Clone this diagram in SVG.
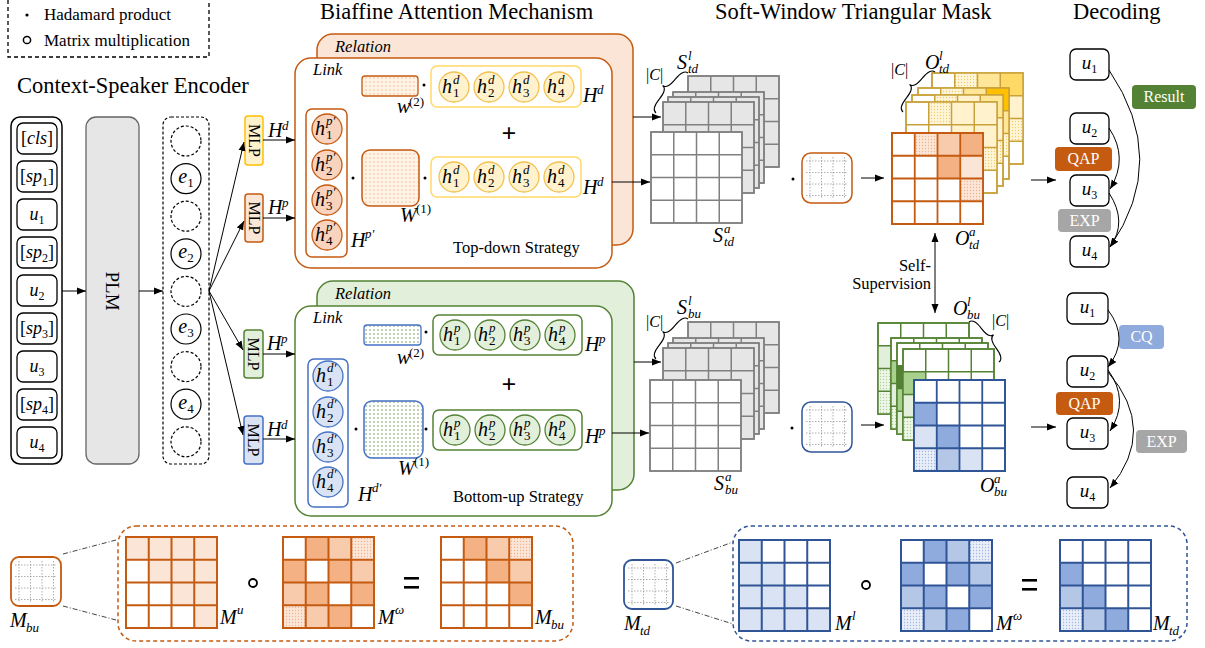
<svg xmlns="http://www.w3.org/2000/svg" xmlns:xlink="http://www.w3.org/1999/xlink" width="1205" height="648" viewBox="0 0 1205 648">
<defs>
<style>
text{font-family:"Liberation Serif","Times New Roman",serif;fill:#000}
.i{font-style:italic}
.ttl{font-size:22.5px}
.lg{font-size:17px}
.m{font-size:20px;font-style:italic}
.s{font-size:13px}
.si{font-size:13px;font-style:italic}
.lab{font-size:16.5px}
.wt{fill:#fff;font-size:16px}
.ln{stroke:#000;stroke-width:1;fill:none}
.arr{marker-end:url(#ah)}
.box{fill:#fff;stroke:#000;stroke-width:1.3}
.mg{stroke:#9a9a9a;stroke-width:0.8;stroke-dasharray:1.5 1.5;fill:none}
.dd{stroke:#444;stroke-width:1;stroke-dasharray:5 2 1 2;fill:none}
</style>
<marker id="ah" markerWidth="9" markerHeight="8" refX="9" refY="4" orient="auto" markerUnits="userSpaceOnUse"><path d="M0,0.5 L9,4 L0,7.5z" fill="#000"/></marker>
<marker id="ah2" markerWidth="9" markerHeight="8" refX="9" refY="4" orient="auto-start-reverse" markerUnits="userSpaceOnUse"><path d="M0,0.5 L9,4 L0,7.5z" fill="#000"/></marker>
<pattern id="pO" width="3" height="3" patternUnits="userSpaceOnUse"><rect width="3" height="3" fill="#fce6d8"/><circle cx="1.5" cy="1.5" r="0.65" fill="#f2b48e"/></pattern>
<pattern id="pY" width="3" height="3" patternUnits="userSpaceOnUse"><rect width="3" height="3" fill="#fff6da"/><circle cx="1.5" cy="1.5" r="0.65" fill="#f2cc6a"/></pattern>
<pattern id="pB" width="3" height="3" patternUnits="userSpaceOnUse"><rect width="3" height="3" fill="#e9eef8"/><circle cx="1.5" cy="1.5" r="0.65" fill="#9fb6e0"/></pattern>
<pattern id="pG" width="3" height="3" patternUnits="userSpaceOnUse"><rect width="3" height="3" fill="#eef6ea"/><circle cx="1.5" cy="1.5" r="0.65" fill="#a9d18e"/></pattern>
<pattern id="pWO" width="4" height="4" patternUnits="userSpaceOnUse"><rect width="4" height="4" fill="#fff3e6"/><circle cx="2" cy="2" r="0.7" fill="#f4b183"/></pattern>
<pattern id="pWG" width="4" height="4" patternUnits="userSpaceOnUse"><rect width="4" height="4" fill="#fff"/><circle cx="2" cy="2" r="0.7" fill="#548235"/></pattern>
<path id="g4" d="M0,0H91V91H0Z M22.75,0V91 M45.5,0V91 M68.25,0V91 M0,22.75H91 M0,45.5H91 M0,68.25H91" fill="none"/>
<path id="mgrid" class="mg" d="M8,4V46 M19.5,4V46 M31,4V46 M42.5,4V46 M4,8H46 M4,19.5H46 M4,31H46 M4,42.5H46"/>
</defs>

<rect width="1205" height="648" fill="#fff"/>

<!-- titles -->
<g id="titles">
<text class="ttl" x="17" y="93">Context-Speaker Encoder</text>
<text class="ttl" x="320" y="19">Biaffine Attention Mechanism</text>
<text class="ttl" x="715" y="19">Soft-Window Triangular Mask</text>
<text class="ttl" x="1073" y="19">Decoding</text>
</g>

<!-- legend -->
<g id="legend">
<rect x="8" y="-6" width="201" height="63" fill="none" stroke="#000" stroke-width="1.3" stroke-dasharray="4 3"/>
<circle cx="27" cy="15" r="1.6" fill="#000"/>
<text class="lg" x="44" y="20">Hadamard product</text>
<circle cx="27" cy="40" r="3.6" fill="none" stroke="#000" stroke-width="1.5"/>
<text class="lg" x="44" y="46">Matrix multiplication</text>
</g>

<!-- encoder input -->
<g id="inputs">
<rect x="11" y="117" width="51" height="347" rx="9" fill="none" stroke="#000" stroke-width="1.5"/>
<rect class="box" x="17" y="123" width="40" height="31" rx="6"/>
<text x="37" y="144" text-anchor="middle" font-size="18">[<tspan class="i">cls</tspan>]</text>
<rect class="box" x="17" y="161" width="40" height="31" rx="6"/>
<text x="37" y="182" text-anchor="middle" font-size="18">[<tspan class="i">sp</tspan><tspan font-size="12" dy="4">1</tspan><tspan dy="-4">]</tspan></text>
<rect class="box" x="17" y="199" width="40" height="31" rx="6"/>
<text x="37" y="220" text-anchor="middle" font-size="18"><tspan class="i">u</tspan><tspan font-size="12" dy="4">1</tspan></text>
<rect class="box" x="17" y="237" width="40" height="31" rx="6"/>
<text x="37" y="258" text-anchor="middle" font-size="18">[<tspan class="i">sp</tspan><tspan font-size="12" dy="4">2</tspan><tspan dy="-4">]</tspan></text>
<rect class="box" x="17" y="275" width="40" height="31" rx="6"/>
<text x="37" y="296" text-anchor="middle" font-size="18"><tspan class="i">u</tspan><tspan font-size="12" dy="4">2</tspan></text>
<rect class="box" x="17" y="313" width="40" height="31" rx="6"/>
<text x="37" y="334" text-anchor="middle" font-size="18">[<tspan class="i">sp</tspan><tspan font-size="12" dy="4">3</tspan><tspan dy="-4">]</tspan></text>
<rect class="box" x="17" y="351" width="40" height="31" rx="6"/>
<text x="37" y="372" text-anchor="middle" font-size="18"><tspan class="i">u</tspan><tspan font-size="12" dy="4">3</tspan></text>
<rect class="box" x="17" y="389" width="40" height="31" rx="6"/>
<text x="37" y="410" text-anchor="middle" font-size="18">[<tspan class="i">sp</tspan><tspan font-size="12" dy="4">4</tspan><tspan dy="-4">]</tspan></text>
<rect class="box" x="17" y="427" width="40" height="31" rx="6"/>
<text x="37" y="448" text-anchor="middle" font-size="18"><tspan class="i">u</tspan><tspan font-size="12" dy="4">4</tspan></text>
</g>

<g id="plm">
<rect x="86" y="117" width="53" height="347" rx="10" fill="#e6e6e6" stroke="#666" stroke-width="1.3"/>
<text transform="translate(112,291) rotate(90)" text-anchor="middle" dominant-baseline="central" font-size="19">PLM</text>
</g>

<g id="embeddings">
<rect x="163" y="117" width="46" height="347" rx="8" fill="none" stroke="#000" stroke-width="1.2" stroke-dasharray="3 2"/>
<g fill="#fff" stroke="#000" stroke-width="1.2">
<circle cx="186" cy="141" r="15" stroke-dasharray="3 2"/>
<circle cx="186" cy="178.6" r="15"/>
<circle cx="186" cy="216.2" r="15" stroke-dasharray="3 2"/>
<circle cx="186" cy="253.8" r="15"/>
<circle cx="186" cy="291.4" r="15" stroke-dasharray="3 2"/>
<circle cx="186" cy="329" r="15"/>
<circle cx="186" cy="366.6" r="15" stroke-dasharray="3 2"/>
<circle cx="186" cy="404.2" r="15"/>
<circle cx="186" cy="441.8" r="15" stroke-dasharray="3 2"/>
</g>
<text x="186" y="183" text-anchor="middle" class="m">e<tspan class="s" font-style="normal" dy="4">1</tspan></text>
<text x="186" y="258" text-anchor="middle" class="m">e<tspan class="s" font-style="normal" dy="4">2</tspan></text>
<text x="186" y="333" text-anchor="middle" class="m">e<tspan class="s" font-style="normal" dy="4">3</tspan></text>
<text x="186" y="409" text-anchor="middle" class="m">e<tspan class="s" font-style="normal" dy="4">4</tspan></text>
</g>

<g id="mlps">
<rect x="245" y="116" width="18" height="49" rx="3" fill="#fff2cc" stroke="#ffc000" stroke-width="1.5"/>
<text transform="translate(254,140.5) rotate(90)" text-anchor="middle" dominant-baseline="central" font-size="16">MLP</text>
<rect x="245" y="194" width="18" height="48" rx="3" fill="#fbe5d6" stroke="#c55a11" stroke-width="1.5"/>
<text transform="translate(254,218) rotate(90)" text-anchor="middle" dominant-baseline="central" font-size="16">MLP</text>
<rect x="244" y="330" width="19" height="48" rx="3" fill="#e2efda" stroke="#548235" stroke-width="1.5"/>
<text transform="translate(253.5,354) rotate(90)" text-anchor="middle" dominant-baseline="central" font-size="16">MLP</text>
<rect x="244" y="416" width="19" height="48" rx="3" fill="#dae3f3" stroke="#4472c4" stroke-width="1.5"/>
<text transform="translate(253.5,440) rotate(90)" text-anchor="middle" dominant-baseline="central" font-size="16">MLP</text>
<text class="m" x="268" y="137" font-size="19">H</text><text class="si" x="282" y="130">d</text>
<text class="m" x="268" y="214" font-size="19">H</text><text class="si" x="282" y="207">p</text>
<text class="m" x="267" y="350" font-size="19">H</text><text class="si" x="281" y="343">p</text>
<text class="m" x="267" y="436" font-size="19">H</text><text class="si" x="281" y="429">d</text>
</g>

<!-- top-down biaffine -->
<g id="topdown">
<rect x="317" y="34" width="316" height="211" rx="16" fill="#fbe5d6" stroke="#c55a11" stroke-width="1.5"/>
<text class="lab i" x="335" y="52">Relation</text>
<rect x="295" y="58" width="317" height="210" rx="16" fill="#fff" stroke="#c55a11" stroke-width="1.5"/>
<text class="lab i" x="313" y="75">Link</text>
<rect x="362" y="76" width="56" height="20" rx="3" fill="url(#pWO)" stroke="#c55a11" stroke-width="1.3"/>
<circle cx="424" cy="85" r="1.5"/>
<text class="m" x="397" y="113" font-size="19">w</text><text class="s" x="409" y="106">(2)</text>
<rect x="431" y="66" width="150" height="41" rx="6" fill="#fff" stroke="#ffd966" stroke-width="1.5"/>
<g fill="#fff2cc" stroke="#f2c14e" stroke-width="1.3">
<circle cx="454" cy="87" r="15"/><circle cx="489" cy="87" r="15"/><circle cx="524" cy="87" r="15"/><circle cx="559" cy="87" r="15"/>
<circle cx="454" cy="177" r="15"/><circle cx="489" cy="177" r="15"/><circle cx="524" cy="177" r="15"/><circle cx="559" cy="177" r="15"/>
</g>
<text class="m" x="442" y="93">h</text><text class="si" x="453" y="84">d</text><text class="s" x="453" y="97">1</text>
<text class="m" x="477" y="93">h</text><text class="si" x="488" y="84">d</text><text class="s" x="488" y="97">2</text>
<text class="m" x="512" y="93">h</text><text class="si" x="523" y="84">d</text><text class="s" x="523" y="97">3</text>
<text class="m" x="547" y="93">h</text><text class="si" x="558" y="84">d</text><text class="s" x="558" y="97">4</text>
<text class="m" x="583" y="102" font-size="19">H</text><text class="si" x="597" y="94">d</text>
<text x="509" y="142" text-anchor="middle" font-size="26" font-weight="bold">+</text>
<rect x="306" y="109" width="41" height="148" rx="6" fill="#fff" stroke="#c55a11" stroke-width="1.5"/>
<g fill="#f9d3bd" stroke="#c55a11" stroke-width="1.3">
<circle cx="327" cy="129" r="15"/><circle cx="327" cy="165" r="15"/><circle cx="327" cy="200" r="15"/><circle cx="327" cy="235" r="15"/>
</g>
<text class="m" x="315" y="135">h</text><text class="si" x="326" y="125">p′</text><text class="s" x="326" y="139">1</text>
<text class="m" x="315" y="171">h</text><text class="si" x="326" y="161">p′</text><text class="s" x="326" y="175">2</text>
<text class="m" x="315" y="206">h</text><text class="si" x="326" y="196">p′</text><text class="s" x="326" y="210">3</text>
<text class="m" x="315" y="241">h</text><text class="si" x="326" y="231">p′</text><text class="s" x="326" y="245">4</text>
<text class="m" x="351" y="247" font-size="19">H</text><text class="si" x="365" y="238">p′</text>
<circle cx="353" cy="178" r="1.5"/>
<rect x="362" y="150" width="57" height="56" rx="8" fill="url(#pWO)" stroke="#c55a11" stroke-width="1.5"/>
<text class="m" x="400" y="222" font-size="19">W</text><text class="s" x="416" y="213">(1)</text>
<circle cx="425" cy="178" r="1.5"/>
<rect x="431" y="157" width="150" height="40" rx="6" fill="#fff" stroke="#ffd966" stroke-width="1.5"/>
<g fill="#fff2cc" stroke="#f2c14e" stroke-width="1.3">
<circle cx="454" cy="177" r="15"/><circle cx="489" cy="177" r="15"/><circle cx="524" cy="177" r="15"/><circle cx="559" cy="177" r="15"/>
</g>
<text class="m" x="442" y="183">h</text><text class="si" x="453" y="174">d</text><text class="s" x="453" y="187">1</text>
<text class="m" x="477" y="183">h</text><text class="si" x="488" y="174">d</text><text class="s" x="488" y="187">2</text>
<text class="m" x="512" y="183">h</text><text class="si" x="523" y="174">d</text><text class="s" x="523" y="187">3</text>
<text class="m" x="547" y="183">h</text><text class="si" x="558" y="174">d</text><text class="s" x="558" y="187">4</text>
<text class="m" x="583" y="194" font-size="19">H</text><text class="si" x="597" y="186">d</text>
<text class="lab" x="453" y="253">Top-down Strategy</text>
</g>

<!-- bottom-up biaffine -->
<g id="bottomup">
<rect x="317" y="281" width="317" height="209" rx="16" fill="#e2efda" stroke="#548235" stroke-width="1.5"/>
<text class="lab i" x="335" y="299">Relation</text>
<rect x="295" y="306" width="317" height="210" rx="16" fill="#fff" stroke="#548235" stroke-width="1.5"/>
<text class="lab i" x="313" y="323">Link</text>
<rect x="364" y="325" width="57" height="20" rx="3" fill="url(#pWG)" stroke="#4472c4" stroke-width="1.3"/>
<circle cx="426" cy="332" r="1.5"/>
<text class="m" x="397" y="364" font-size="19">w</text><text class="s" x="409" y="357">(2)</text>
<rect x="433" y="315" width="149" height="40" rx="6" fill="#fff" stroke="#548235" stroke-width="1.5"/>
<g fill="#e2efda" stroke="#548235" stroke-width="1.3">
<circle cx="455" cy="335" r="15"/><circle cx="490" cy="335" r="15"/><circle cx="525" cy="335" r="15"/><circle cx="560" cy="335" r="15"/>
</g>
<text class="m" x="443" y="341">h</text><text class="si" x="454" y="332">p</text><text class="s" x="454" y="345">1</text>
<text class="m" x="478" y="341">h</text><text class="si" x="489" y="332">p</text><text class="s" x="489" y="345">2</text>
<text class="m" x="513" y="341">h</text><text class="si" x="524" y="332">p</text><text class="s" x="524" y="345">3</text>
<text class="m" x="548" y="341">h</text><text class="si" x="559" y="332">p</text><text class="s" x="559" y="345">4</text>
<text class="m" x="585" y="351" font-size="19">H</text><text class="si" x="599" y="343">p</text>
<text x="509" y="393" text-anchor="middle" font-size="26" font-weight="bold">+</text>
<rect x="308" y="359" width="40" height="148" rx="6" fill="#fff" stroke="#4472c4" stroke-width="1.5"/>
<g fill="#dae3f3" stroke="#4472c4" stroke-width="1.3">
<circle cx="328" cy="376" r="15"/><circle cx="328" cy="412" r="15"/><circle cx="328" cy="447" r="15"/><circle cx="328" cy="482" r="15"/>
</g>
<text class="m" x="316" y="382">h</text><text class="si" x="327" y="372">d′</text><text class="s" x="327" y="386">1</text>
<text class="m" x="316" y="418">h</text><text class="si" x="327" y="408">d′</text><text class="s" x="327" y="422">2</text>
<text class="m" x="316" y="453">h</text><text class="si" x="327" y="443">d′</text><text class="s" x="327" y="457">3</text>
<text class="m" x="316" y="488">h</text><text class="si" x="327" y="478">d′</text><text class="s" x="327" y="492">4</text>
<text class="m" x="358" y="501" font-size="19">H</text><text class="si" x="372" y="492">d′</text>
<circle cx="356" cy="429" r="1.5"/>
<rect x="364" y="401" width="59" height="57" rx="8" fill="url(#pWG)" stroke="#4472c4" stroke-width="1.5"/>
<text class="m" x="398" y="475" font-size="19">W</text><text class="s" x="414" y="466">(1)</text>
<circle cx="426" cy="429" r="1.5"/>
<rect x="433" y="410" width="149" height="40" rx="6" fill="#fff" stroke="#548235" stroke-width="1.5"/>
<g fill="#e2efda" stroke="#548235" stroke-width="1.3">
<circle cx="455" cy="430" r="15"/><circle cx="490" cy="430" r="15"/><circle cx="525" cy="430" r="15"/><circle cx="560" cy="430" r="15"/>
</g>
<text class="m" x="443" y="436">h</text><text class="si" x="454" y="427">p</text><text class="s" x="454" y="440">1</text>
<text class="m" x="478" y="436">h</text><text class="si" x="489" y="427">p</text><text class="s" x="489" y="440">2</text>
<text class="m" x="513" y="436">h</text><text class="si" x="524" y="427">p</text><text class="s" x="524" y="440">3</text>
<text class="m" x="548" y="436">h</text><text class="si" x="559" y="427">p</text><text class="s" x="559" y="440">4</text>
<text class="m" x="585" y="443" font-size="19">H</text><text class="si" x="599" y="435">p</text>
<text class="lab" x="453" y="502">Bottom-up Strategy</text>
</g>

<!-- S_td stack -->
<g id="S_td" stroke="#808080" stroke-width="1.5">
<rect x="688" y="76" width="91" height="91" fill="#e7e6e6"/><use href="#g4" x="688" y="76"/>
<rect x="673" y="92" width="91" height="91" fill="#e7e6e6"/><use href="#g4" x="673" y="92"/>
<rect x="668" y="97" width="91" height="91" fill="#e7e6e6"/><use href="#g4" x="668" y="97"/>
<rect x="663" y="102" width="91" height="91" fill="#e7e6e6"/><use href="#g4" x="663" y="102"/>
<rect x="651" y="132" width="91" height="91" fill="#fff"/><use href="#g4" x="651" y="132"/>
<path d="M656,113 Q651.3,109.2 659.3,99.2 T662.6,85.4 M688,73 Q683.3,69.2 675.3,79.2 T662.6,85.4" fill="none" stroke="#000" stroke-width="1.1"/>
<text x="646" y="80" font-size="16" stroke="none">|<tspan class="i">C</tspan>|</text>
<text class="m" x="677" y="69" font-size="18" stroke="none">S</text><text class="si" x="688" y="60" stroke="none">l</text><text class="si" x="688" y="73" stroke="none">td</text>
<text class="m" x="713" y="242" font-size="18" stroke="none">S</text><text class="si" x="724" y="233" stroke="none">a</text><text class="si" x="724" y="246" stroke="none">td</text>
</g>

<!-- S_bu stack -->
<g id="S_bu" stroke="#808080" stroke-width="1.5">
<rect x="688" y="322" width="91" height="91" fill="#e7e6e6"/><use href="#g4" x="688" y="322"/>
<rect x="673" y="338" width="91" height="91" fill="#e7e6e6"/><use href="#g4" x="673" y="338"/>
<rect x="668" y="343" width="91" height="91" fill="#e7e6e6"/><use href="#g4" x="668" y="343"/>
<rect x="663" y="348" width="91" height="91" fill="#e7e6e6"/><use href="#g4" x="663" y="348"/>
<rect x="650" y="380" width="91" height="91" fill="#fff"/><use href="#g4" x="650" y="380"/>
<path d="M656,359 Q651.3,355.2 659.3,345.2 T662.6,331.4 M688,319 Q683.3,315.2 675.3,325.2 T662.6,331.4" fill="none" stroke="#000" stroke-width="1.1"/>
<text x="646" y="327" font-size="16" stroke="none">|<tspan class="i">C</tspan>|</text>
<text class="m" x="677" y="314" font-size="18" stroke="none">S</text><text class="si" x="688" y="305" stroke="none">l</text><text class="si" x="688" y="318" stroke="none">bu</text>
<text class="m" x="714" y="490" font-size="18" stroke="none">S</text><text class="si" x="725" y="481" stroke="none">a</text><text class="si" x="725" y="494" stroke="none">bu</text>
</g>

<!-- masks -->
<g id="mask_td">
<circle cx="793" cy="179" r="1.5"/>
<rect x="802" y="153" width="50" height="50" rx="9" fill="#fff"/>
<use href="#mgrid" x="802" y="153"/>
<rect x="802" y="153" width="50" height="50" rx="9" fill="none" stroke="#c55a11" stroke-width="1.5"/>
</g>
<g id="mask_bu">
<circle cx="792" cy="428" r="1.5"/>
<rect x="802" y="402" width="50" height="50" rx="9" fill="#fff"/>
<use href="#mgrid" x="802" y="402"/>
<rect x="802" y="402" width="50" height="50" rx="9" fill="none" stroke="#2f5597" stroke-width="1.5"/>
</g>

<!-- O_td stack -->
<g id="O_td">
<g stroke="#c9a13b" stroke-width="1.5">
<rect x="932" y="73" width="91" height="91" fill="#fff"/>
<rect x="954.75" y="73" width="22.75" height="22.75" fill="url(#pY)" stroke="none"/>
<rect x="977.5" y="73" width="22.75" height="22.75" fill="#ffe699" stroke="none"/>
<rect x="1000.25" y="73" width="22.75" height="22.75" fill="#ffd966" stroke="none"/>
<rect x="977.5" y="95.75" width="22.75" height="22.75" fill="#ffe699" stroke="none"/>
<rect x="1000.25" y="95.75" width="22.75" height="22.75" fill="#fff2cc" stroke="none"/>
<rect x="1000.25" y="118.5" width="22.75" height="22.75" fill="url(#pY)" stroke="none"/>
<use href="#g4" x="932" y="73"/>
<rect x="918" y="88" width="91" height="91" fill="#fff"/>
<rect x="940.75" y="88" width="22.75" height="22.75" fill="url(#pY)" stroke="none"/>
<rect x="963.5" y="88" width="22.75" height="22.75" fill="#ffe699" stroke="none"/>
<rect x="986.25" y="88" width="22.75" height="22.75" fill="#ffc000" stroke="none"/>
<rect x="963.5" y="110.75" width="22.75" height="22.75" fill="#fff2cc" stroke="none"/>
<rect x="986.25" y="110.75" width="22.75" height="22.75" fill="#ffe699" stroke="none"/>
<rect x="986.25" y="133.5" width="22.75" height="22.75" fill="url(#pY)" stroke="none"/>
<use href="#g4" x="918" y="88"/>
<rect x="912" y="95" width="91" height="91" fill="#fff"/>
<rect x="934.75" y="95" width="22.75" height="22.75" fill="url(#pY)" stroke="none"/>
<rect x="957.5" y="95" width="22.75" height="22.75" fill="#fff2cc" stroke="none"/>
<rect x="980.25" y="95" width="22.75" height="22.75" fill="#ffe699" stroke="none"/>
<rect x="980.25" y="117.75" width="22.75" height="22.75" fill="#fff2cc" stroke="none"/>
<rect x="980.25" y="140.5" width="22.75" height="22.75" fill="url(#pY)" stroke="none"/>
<use href="#g4" x="912" y="95"/>
<rect x="906" y="102" width="91" height="91" fill="#fff"/>
<rect x="928.75" y="102" width="22.75" height="22.75" fill="url(#pY)" stroke="none"/>
<rect x="951.5" y="102" width="22.75" height="22.75" fill="#fff2cc" stroke="none"/>
<rect x="974.25" y="102" width="22.75" height="22.75" fill="#fff2cc" stroke="none"/>
<rect x="951.5" y="124.75" width="22.75" height="22.75" fill="#fff2cc" stroke="none"/>
<rect x="974.25" y="124.75" width="22.75" height="22.75" fill="#fff2cc" stroke="none"/>
<rect x="974.25" y="147.5" width="22.75" height="22.75" fill="url(#pY)" stroke="none"/>
<use href="#g4" x="906" y="102"/>
</g>
<g stroke="#c55a11" stroke-width="1.8">
<rect x="892" y="133" width="91" height="91" fill="#fff"/>
<rect x="914.75" y="133" width="22.75" height="22.75" fill="url(#pO)" stroke="none"/>
<rect x="937.5" y="133" width="22.75" height="22.75" fill="#f8cbad" stroke="none"/>
<rect x="960.25" y="133" width="22.75" height="22.75" fill="#f4b183" stroke="none"/>
<rect x="937.5" y="155.75" width="22.75" height="22.75" fill="#f4b183" stroke="none"/>
<rect x="960.25" y="155.75" width="22.75" height="22.75" fill="#fbe5d6" stroke="none"/>
<rect x="960.25" y="178.5" width="22.75" height="22.75" fill="url(#pO)" stroke="none"/>
<use href="#g4" x="892" y="133"/>
</g>
<path d="M903,112 Q898.3,108.2 906.3,98.2 T909.6,84.4 M935,72 Q930.3,68.2 922.3,78.2 T909.6,84.4" fill="none" stroke="#000" stroke-width="1.1"/>
<text x="891" y="75" font-size="16">|<tspan class="i">C</tspan>|</text>
<text class="m" x="925" y="69" font-size="18">O</text><text class="si" x="939" y="60">l</text><text class="si" x="939" y="73">td</text>
<text class="m" x="955" y="245" font-size="18">O</text><text class="si" x="969" y="236">a</text><text class="si" x="969" y="249">td</text>
</g>

<!-- O_bu stack -->
<g id="O_bu">
<g stroke="#548235" stroke-width="1.5">
<rect x="878" y="323" width="91" height="91" fill="#fff"/>
<rect x="878" y="345.75" width="22.75" height="22.75" fill="#e2efda" stroke="none"/>
<rect x="878" y="368.5" width="22.75" height="22.75" fill="url(#pG)" stroke="none"/>
<rect x="900.75" y="368.5" width="22.75" height="22.75" fill="#e2efda" stroke="none"/>
<rect x="878" y="391.25" width="22.75" height="22.75" fill="url(#pG)" stroke="none"/>
<use href="#g4" x="878" y="323"/>
<rect x="891" y="338" width="91" height="91" fill="#fff"/>
<rect x="891" y="360.75" width="22.75" height="22.75" fill="#a9d18e" stroke="none"/>
<rect x="891" y="383.5" width="22.75" height="22.75" fill="#e2efda" stroke="none"/>
<rect x="891" y="406.25" width="22.75" height="22.75" fill="url(#pG)" stroke="none"/>
<use href="#g4" x="891" y="338"/>
<rect x="897" y="343" width="91" height="91" fill="#fff"/>
<rect x="897" y="365.75" width="22.75" height="22.75" fill="#548235" stroke="none"/>
<rect x="897" y="388.5" width="22.75" height="22.75" fill="#a9d18e" stroke="none"/>
<rect x="897" y="411.25" width="22.75" height="22.75" fill="#e2efda" stroke="none"/>
<use href="#g4" x="897" y="343"/>
<rect x="903" y="349" width="91" height="91" fill="#fff"/>
<rect x="903" y="371.75" width="22.75" height="22.75" fill="#a9d18e" stroke="none"/>
<rect x="903" y="394.5" width="22.75" height="22.75" fill="#e2efda" stroke="none"/>
<rect x="903" y="417.25" width="22.75" height="22.75" fill="url(#pG)" stroke="none"/>
<use href="#g4" x="903" y="349"/>
</g>
<g stroke="#2f5597" stroke-width="1.8">
<rect x="914" y="380" width="91" height="91" fill="#fff"/>
<rect x="914" y="402.75" width="22.75" height="22.75" fill="#8faadc" stroke="none"/>
<rect x="914" y="425.5" width="22.75" height="22.75" fill="#dae3f3" stroke="none"/>
<rect x="936.75" y="425.5" width="22.75" height="22.75" fill="#8faadc" stroke="none"/>
<rect x="914" y="448.25" width="22.75" height="22.75" fill="url(#pB)" stroke="none"/>
<rect x="936.75" y="448.25" width="22.75" height="22.75" fill="#b4c7e7" stroke="none"/>
<rect x="959.5" y="448.25" width="22.75" height="22.75" fill="#dae3f3" stroke="none"/>
<use href="#g4" x="914" y="380"/>
</g>
<path d="M969,322 Q973.8,318.4 981.3,328.4 T993.6,334.8 M999,362 Q1003.8,358.4 996.3,348.4 T993.6,334.8" fill="none" stroke="#000" stroke-width="1.1"/>
<text x="992" y="326" font-size="16">|<tspan class="i">C</tspan>|</text>
<text class="m" x="953" y="315" font-size="18">O</text><text class="si" x="967" y="306">l</text><text class="si" x="967" y="319">bu</text>
<text class="m" x="980" y="492" font-size="18">O</text><text class="si" x="994" y="483">a</text><text class="si" x="994" y="496">bu</text>
</g>

<g id="selfsup">
<text class="lab" x="931" y="271" text-anchor="end">Self-</text>
<text class="lab" x="931" y="289" text-anchor="end">Supervision</text>
</g>

<!-- decoding top -->
<g id="decode_td">
<rect class="box" x="1070" y="49" width="39" height="31" rx="6"/>
<text x="1089.5" y="69" text-anchor="middle" font-size="19"><tspan class="i">u</tspan><tspan font-size="12" dy="4">1</tspan></text>
<rect class="box" x="1070" y="113" width="39" height="31" rx="6"/>
<text x="1089.5" y="133" text-anchor="middle" font-size="19"><tspan class="i">u</tspan><tspan font-size="12" dy="4">2</tspan></text>
<rect class="box" x="1070" y="175" width="39" height="31" rx="6"/>
<text x="1089.5" y="195" text-anchor="middle" font-size="19"><tspan class="i">u</tspan><tspan font-size="12" dy="4">3</tspan></text>
<rect class="box" x="1070" y="236" width="39" height="31" rx="6"/>
<text x="1089.5" y="256" text-anchor="middle" font-size="19"><tspan class="i">u</tspan><tspan font-size="12" dy="4">4</tspan></text>
<rect x="1132" y="85" width="64" height="24" rx="4" fill="#548235"/>
<text class="wt" x="1164" y="102" text-anchor="middle">Result</text>
<rect x="1055" y="147" width="57" height="24" rx="4" fill="#c55a11"/>
<text class="wt" x="1083.5" y="164" text-anchor="middle">QAP</text>
<rect x="1058" y="209" width="53" height="23" rx="4" fill="#a6a6a6"/>
<text class="wt" x="1084.5" y="226" text-anchor="middle">EXP</text>
</g>

<!-- decoding bottom -->
<g id="decode_bu">
<rect class="box" x="1067" y="293" width="41" height="31" rx="6"/>
<text x="1087.5" y="313" text-anchor="middle" font-size="19"><tspan class="i">u</tspan><tspan font-size="12" dy="4">1</tspan></text>
<rect class="box" x="1067" y="356" width="41" height="31" rx="6"/>
<text x="1087.5" y="376" text-anchor="middle" font-size="19"><tspan class="i">u</tspan><tspan font-size="12" dy="4">2</tspan></text>
<rect class="box" x="1067" y="418" width="41" height="31" rx="6"/>
<text x="1087.5" y="438" text-anchor="middle" font-size="19"><tspan class="i">u</tspan><tspan font-size="12" dy="4">3</tspan></text>
<rect class="box" x="1067" y="477" width="41" height="31" rx="6"/>
<text x="1087.5" y="497" text-anchor="middle" font-size="19"><tspan class="i">u</tspan><tspan font-size="12" dy="4">4</tspan></text>
<rect x="1119" y="325" width="45" height="24" rx="4" fill="#8faadc"/>
<text class="wt" x="1141.5" y="342" text-anchor="middle">CQ</text>
<rect x="1056" y="392" width="57" height="23" rx="4" fill="#c55a11"/>
<text class="wt" x="1084.5" y="409" text-anchor="middle">QAP</text>
<rect x="1136" y="430" width="51" height="23" rx="4" fill="#a6a6a6"/>
<text class="wt" x="1161.5" y="447" text-anchor="middle">EXP</text>
</g>

<!-- connectors -->
<g id="connectors" class="ln">
<path class="arr" d="M62,291H86"/>
<path class="arr" d="M139,291H163"/>
<path class="arr" d="M209,291L244,142"/>
<path class="arr" d="M209,291L244,221"/>
<path class="arr" d="M209,291L243,350"/>
<path class="arr" d="M209,291L243,435"/>
<path class="arr" d="M263,140H295"/>
<path class="arr" d="M263,218H295"/>
<path class="arr" d="M263,354H295"/>
<path class="arr" d="M263,439H295"/>
<path class="arr" d="M633,117H661"/>
<path class="arr" d="M612,182H650"/>
<path class="arr" d="M634,362H661"/>
<path class="arr" d="M612,433H649"/>
<path class="arr" d="M861,178H884"/>
<path class="arr" d="M861,425H884"/>
<path d="M935,233V313" marker-start="url(#ah2)" marker-end="url(#ah2)"/>
<path class="arr" d="M1031,180H1056"/>
<path class="arr" d="M1031,427H1056"/>
<path class="arr" d="M1109,70 Q1170,160 1110,247"/>
<path class="arr" d="M1109,128 Q1129,158 1110,189"/>
<path class="arr" d="M1109,193 Q1128,222 1110,247"/>
<path class="arr" d="M1108,310 Q1130,339 1108,367"/>
<path class="arr" d="M1108,370 Q1130,400 1110,431"/>
<path class="arr" d="M1108,372 Q1158,430 1110,488"/>
</g>

<!-- bottom-left mask explanation -->
<g id="mask_bu_detail">
<rect x="11" y="557" width="50" height="49" rx="8" fill="#fff"/>
<use href="#mgrid" x="11" y="557"/>
<rect x="11" y="557" width="50" height="49" rx="8" fill="none" stroke="#c55a11" stroke-width="1.8"/>
<text class="m" x="10" y="627" font-size="19">M</text><text class="si" x="26" y="632">bu</text>
<path class="dd" d="M63,554L116,540 M63,606L116,620"/>
<rect x="118" y="526" width="455" height="115" rx="18" fill="none" stroke="#c55a11" stroke-width="1.5" stroke-dasharray="4 3"/>
<g stroke="#c55a11" stroke-width="2">
<rect x="126" y="537" width="91" height="91" fill="#fff"/>
<g fill="#fbe5d6" stroke="none">
<rect x="126" y="537" width="22.75" height="22.75"/><rect x="148.75" y="537" width="22.75" height="22.75"/><rect x="171.5" y="537" width="22.75" height="22.75"/><rect x="194.25" y="537" width="22.75" height="22.75"/>
<rect x="148.75" y="559.75" width="22.75" height="22.75"/><rect x="171.5" y="559.75" width="22.75" height="22.75"/><rect x="194.25" y="559.75" width="22.75" height="22.75"/>
<rect x="171.5" y="582.5" width="22.75" height="22.75"/><rect x="194.25" y="582.5" width="22.75" height="22.75"/>
<rect x="194.25" y="605.25" width="22.75" height="22.75"/>
</g>
<use href="#g4" x="126" y="537"/>
<rect x="283" y="537" width="91" height="91" fill="#fff"/>
<g stroke="none">
<rect x="305.75" y="537" width="22.75" height="22.75" fill="#f4b183"/><rect x="328.5" y="537" width="22.75" height="22.75" fill="#f8cbad"/><rect x="351.25" y="537" width="22.75" height="22.75" fill="url(#pO)"/>
<rect x="283" y="559.75" width="22.75" height="22.75" fill="#f4b183"/><rect x="328.5" y="559.75" width="22.75" height="22.75" fill="#f4b183"/><rect x="351.25" y="559.75" width="22.75" height="22.75" fill="#f8cbad"/>
<rect x="283" y="582.5" width="22.75" height="22.75" fill="#f8cbad"/><rect x="305.75" y="582.5" width="22.75" height="22.75" fill="#f4b183"/><rect x="351.25" y="582.5" width="22.75" height="22.75" fill="#f4b183"/>
<rect x="283" y="605.25" width="22.75" height="22.75" fill="url(#pO)"/><rect x="305.75" y="605.25" width="22.75" height="22.75" fill="#f8cbad"/><rect x="328.5" y="605.25" width="22.75" height="22.75" fill="#f4b183"/>
</g>
<use href="#g4" x="283" y="537"/>
<rect x="441" y="537" width="91" height="91" fill="#fff"/>
<g stroke="none">
<rect x="463.75" y="537" width="22.75" height="22.75" fill="#f4b183"/><rect x="486.5" y="537" width="22.75" height="22.75" fill="#f8cbad"/><rect x="509.25" y="537" width="22.75" height="22.75" fill="url(#pO)"/>
<rect x="486.5" y="559.75" width="22.75" height="22.75" fill="#f4b183"/><rect x="509.25" y="559.75" width="22.75" height="22.75" fill="#f8cbad"/>
<rect x="509.25" y="582.5" width="22.75" height="22.75" fill="#f4b183"/>
</g>
<use href="#g4" x="441" y="537"/>
</g>
<circle cx="253" cy="583" r="4" fill="none" stroke="#000" stroke-width="1.8"/>
<rect x="404" y="577" width="15" height="2.6" fill="#000"/><rect x="404" y="586" width="15" height="2.6" fill="#000"/>
<text class="m" x="220" y="624" font-size="19">M</text><text class="si" x="237" y="614">u</text>
<text class="m" x="378" y="624" font-size="19">M</text><text class="si" x="395" y="614">ω</text>
<text class="m" x="535" y="624" font-size="19">M</text><text class="si" x="551" y="629">bu</text>
</g>

<!-- bottom-right mask explanation -->
<g id="mask_td_detail">
<rect x="624" y="560" width="49" height="49" rx="8" fill="#fff"/>
<use href="#mgrid" x="624" y="560"/>
<rect x="624" y="560" width="49" height="49" rx="8" fill="none" stroke="#2f5597" stroke-width="1.8"/>
<text class="m" x="624" y="630" font-size="19">M</text><text class="si" x="640" y="635">td</text>
<path class="dd" d="M676,563L733,542 M676,606L733,624"/>
<rect x="733" y="526" width="454" height="115" rx="18" fill="none" stroke="#2f5597" stroke-width="1.5" stroke-dasharray="4 3"/>
<g stroke="#2f5597" stroke-width="2">
<rect x="739" y="540" width="91" height="91" fill="#fff"/>
<g fill="#dae3f3" stroke="none">
<rect x="739" y="540" width="22.75" height="22.75"/>
<rect x="739" y="562.75" width="22.75" height="22.75"/><rect x="761.75" y="562.75" width="22.75" height="22.75"/>
<rect x="739" y="585.5" width="22.75" height="22.75"/><rect x="761.75" y="585.5" width="22.75" height="22.75"/><rect x="784.5" y="585.5" width="22.75" height="22.75"/>
<rect x="739" y="608.25" width="22.75" height="22.75"/><rect x="761.75" y="608.25" width="22.75" height="22.75"/><rect x="784.5" y="608.25" width="22.75" height="22.75"/><rect x="807.25" y="608.25" width="22.75" height="22.75"/>
</g>
<use href="#g4" x="739" y="540"/>
<rect x="901" y="540" width="91" height="91" fill="#fff"/>
<g stroke="none">
<rect x="923.75" y="540" width="22.75" height="22.75" fill="#8faadc"/><rect x="946.5" y="540" width="22.75" height="22.75" fill="#b4c7e7"/><rect x="969.25" y="540" width="22.75" height="22.75" fill="url(#pB)"/>
<rect x="901" y="562.75" width="22.75" height="22.75" fill="#8faadc"/><rect x="946.5" y="562.75" width="22.75" height="22.75" fill="#8faadc"/><rect x="969.25" y="562.75" width="22.75" height="22.75" fill="#b4c7e7"/>
<rect x="901" y="585.5" width="22.75" height="22.75" fill="#b4c7e7"/><rect x="923.75" y="585.5" width="22.75" height="22.75" fill="#8faadc"/><rect x="969.25" y="585.5" width="22.75" height="22.75" fill="#8faadc"/>
<rect x="901" y="608.25" width="22.75" height="22.75" fill="url(#pB)"/><rect x="923.75" y="608.25" width="22.75" height="22.75" fill="#b4c7e7"/><rect x="946.5" y="608.25" width="22.75" height="22.75" fill="#8faadc"/>
</g>
<use href="#g4" x="901" y="540"/>
<rect x="1060" y="540" width="91" height="91" fill="#fff"/>
<g stroke="none">
<rect x="1060" y="562.75" width="22.75" height="22.75" fill="#8faadc"/>
<rect x="1060" y="585.5" width="22.75" height="22.75" fill="#b4c7e7"/><rect x="1082.75" y="585.5" width="22.75" height="22.75" fill="#8faadc"/>
<rect x="1060" y="608.25" width="22.75" height="22.75" fill="url(#pB)"/><rect x="1082.75" y="608.25" width="22.75" height="22.75" fill="#b4c7e7"/><rect x="1105.5" y="608.25" width="22.75" height="22.75" fill="#8faadc"/>
</g>
<use href="#g4" x="1060" y="540"/>
</g>
<circle cx="866" cy="585" r="4" fill="none" stroke="#000" stroke-width="1.8"/>
<rect x="1022" y="579" width="15" height="2.6" fill="#000"/><rect x="1022" y="588" width="15" height="2.6" fill="#000"/>
<text class="m" x="835" y="630" font-size="19">M</text><text class="si" x="852" y="620">l</text>
<text class="m" x="996" y="630" font-size="19">M</text><text class="si" x="1013" y="620">ω</text>
<text class="m" x="1153" y="630" font-size="19">M</text><text class="si" x="1169" y="635">td</text>
</g>
</svg>
